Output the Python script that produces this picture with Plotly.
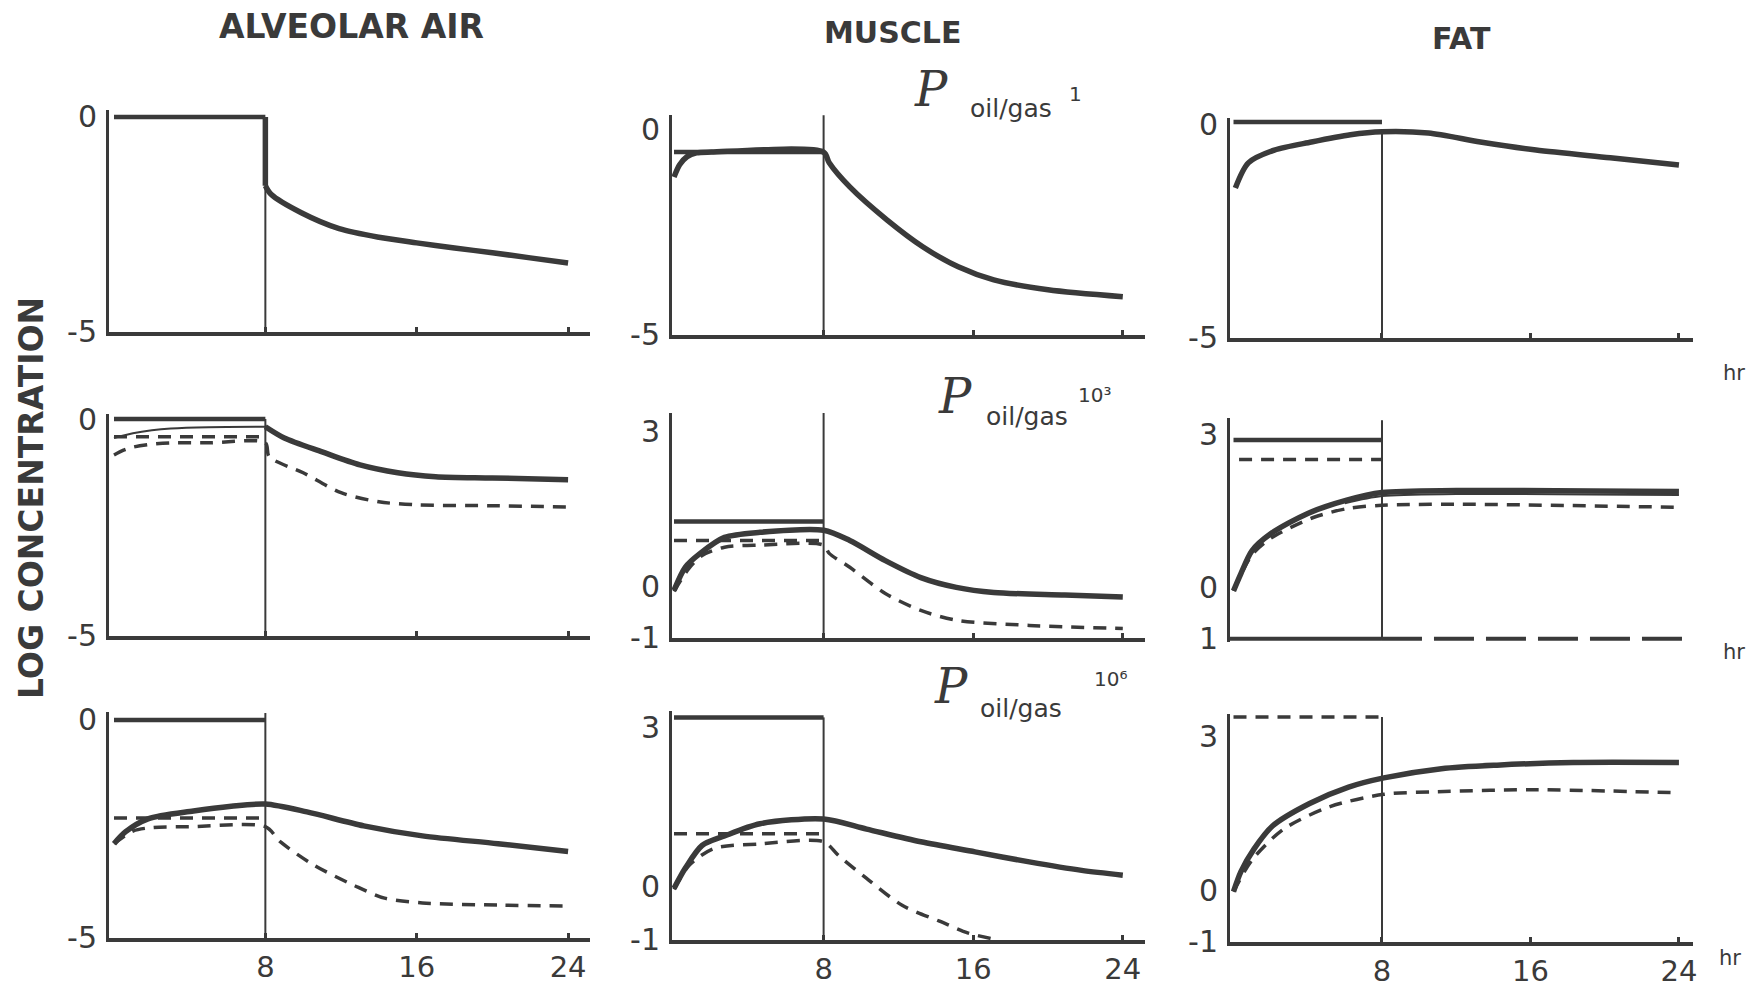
import plotly.graph_objects as go

W, H = 1747, 992
INK = "#3a3a3a"
FONT = "DejaVu Sans"

# ---------------- text ----------------
col_titles = ["ALVEOLAR AIR", "MUSCLE", "FAT"]
y_title = "LOG CONCENTRATION"
partition_symbol = "P"
partition_sub = "oil/gas"
partition_values = ["1", "10³", "10⁶"]
time_unit = "hr"
x_ticks = [8, 16, 24]
x_tick_labels = ["8", "16", "24"]
y_ticks_low = [0, -5]
y_tick_labels_low = ["0", "-5"]
y_ticks_high = [3, 0, -1]
y_tick_labels_high = ["3", "0", "-1"]
y_tick_labels_fat2 = ["3", "0", "1"]

exposure_t = [0, 8]
end_exposure_t = [8, 8]

# ---------------- row 1 : P oil/gas = 1 ----------------
air1_exposure = [0, 0]
air1_drop = [0, -1.6]
air1_t = [8, 8.3, 9.9, 11.9, 14, 16, 18, 20, 22, 24]
air1_v = [-1.6, -1.8, -2.23, -2.6, -2.8, -2.93, -3.05, -3.16, -3.28, -3.4]
air1_mark = [0, -5]

mus1_exposure = [-0.54, -0.54]
mus1_t = [0, 0.3, 0.7, 1.2, 2, 8, 8.3, 9.4, 11.4, 13.3, 15.2, 17.1, 20, 24]
mus1_v = [-1.15, -0.85, -0.65, -0.56, -0.54, -0.54, -0.8, -1.39, -2.2, -2.85, -3.34, -3.66, -3.9, -4.07]
mus1_mark = [0.36, -5]

fat1_exposure = [0.07, 0.07]
fat1_t = [0.1, 0.8, 2.2, 4.2, 6.3, 8, 10.5, 13.3, 16.3, 20.3, 24]
fat1_v = [-1.48, -0.89, -0.59, -0.4, -0.23, -0.16, -0.19, -0.4, -0.59, -0.77, -0.94]
fat1_mark = [-0.16, -5]

# ---------------- row 2 : P oil/gas = 10^3 ----------------
air2_exposure = [0, 0]
air2_dash_exposure = [-0.41, -0.41]
air2_thin_t = [0, 1, 2, 3, 5, 8]
air2_thin_v = [-0.44, -0.33, -0.26, -0.22, -0.19, -0.18]
air2_t = [8, 9, 11, 13, 15, 17, 20, 24]
air2_v = [-0.18, -0.44, -0.76, -1.06, -1.24, -1.33, -1.36, -1.4]
air2_dash_t = [0, 0.5, 1, 2, 3, 5, 8, 8.2, 10, 12, 14, 16, 20, 24]
air2_dash_v = [-0.83, -0.72, -0.65, -0.58, -0.55, -0.55, -0.55, -0.87, -1.24, -1.7, -1.91, -1.98, -2.0, -2.03]
air2_mark = [0, -5]

mus2_exposure = [1.26, 1.26]
mus2_dash_exposure = [0.89, 0.89]
mus2_t = [0, 0.6, 1.4, 2.7, 4.6, 8, 9.4, 11.3, 13.2, 15.1, 17.1, 20.9, 24]
mus2_v = [-0.08, 0.37, 0.64, 0.95, 1.05, 1.09, 0.89, 0.5, 0.17, -0.02, -0.12, -0.17, -0.21]
mus2_dash_t = [0, 0.8, 1.5, 2.7, 4.6, 8, 8.3, 9.4, 11.3, 13.2, 15.1, 19, 24]
mus2_dash_v = [-0.1, 0.35, 0.6, 0.76, 0.8, 0.8, 0.64, 0.37, -0.14, -0.47, -0.66, -0.76, -0.82]
mus2_mark = [3.37, -1]

fat2_exposure = [2.9, 2.9]
fat2_dash_exposure_t = [0.3, 8]
fat2_dash_exposure = [2.52, 2.52]
fat2_t = [0, 0.4, 1, 2, 4, 6.1, 8, 12, 24]
fat2_v = [-0.06, 0.28, 0.73, 1.06, 1.46, 1.72, 1.87, 1.91, 1.89]
fat2_thin_t = [6, 8, 12, 24]
fat2_thin_v = [1.66, 1.8, 1.84, 1.82]
fat2_dash_t = [0, 1, 2, 4.3, 6.2, 8, 12, 24]
fat2_dash_v = [-0.06, 0.65, 0.97, 1.38, 1.56, 1.62, 1.64, 1.58]
fat2_mark = [3.29, -1]

# ---------------- row 3 : P oil/gas = 10^6 ----------------
air3_exposure = [0, 0]
air3_dash_exposure = [-2.25, -2.25]
air3_t = [0, 0.6, 1.8, 4.2, 6.2, 8, 10.2, 13.2, 16.3, 20.3, 24]
air3_v = [-2.84, -2.57, -2.27, -2.09, -1.98, -1.93, -2.11, -2.43, -2.66, -2.84, -3.02]
air3_dash_t = [0, 1, 2, 4, 8, 8.8, 10.6, 12.7, 14.3, 16.3, 20.3, 24]
air3_dash_v = [-2.84, -2.55, -2.47, -2.45, -2.45, -2.8, -3.34, -3.8, -4.09, -4.2, -4.25, -4.27]
air3_mark = [0.16, -5]

mus3_exposure = [3.2, 3.2]
mus3_dash_exposure = [1.0, 1.0]
mus3_t = [0, 0.6, 1.5, 2.7, 4.6, 8, 10.3, 13.2, 16.1, 19, 21.8, 24]
mus3_v = [-0.03, 0.35, 0.78, 0.96, 1.19, 1.28, 1.09, 0.85, 0.66, 0.47, 0.31, 0.22]
mus3_dash_t = [0, 0.8, 2.1, 4.6, 8, 8.8, 10.3, 12.2, 14.2, 15.7, 17]
mus3_dash_v = [-0.05, 0.4, 0.72, 0.81, 0.85, 0.59, 0.16, -0.35, -0.65, -0.87, -0.98]
mus3_mark = [3.2, -1]

fat3_dash_exposure = [3.39, 3.39]
fat3_t = [0, 0.4, 1.1, 2.1, 4.1, 6.2, 8.1, 11.2, 14.2, 18.3, 24]
fat3_v = [-0.02, 0.37, 0.81, 1.26, 1.7, 2.02, 2.2, 2.38, 2.45, 2.5, 2.5]
fat3_dash_t = [0, 1, 2.7, 5.2, 8.1, 11, 16, 24]
fat3_dash_v = [-0.02, 0.6, 1.2, 1.64, 1.88, 1.93, 1.97, 1.91]
fat3_mark = [3.39, -1]

# ---------------- layout geometry (page pixels) ----------------
COLS = [(109, 590, 114, 18.92), (672, 1145, 674, 18.7), (1230, 1693, 1233.5, 18.56)]
PANEL_Y = {
    (0, 0): (110, 332, (0, 117), (-5, 332)),
    (0, 1): (115, 335, (0, 130), (-5, 335)),
    (0, 2): (118, 338, (0, 125), (-5, 338)),
    (1, 0): (414, 636, (0, 419), (-5, 636)),
    (1, 1): (413, 638, (3, 432), (-1, 638)),
    (1, 2): (418, 642, (3, 435), (-1, 639)),
    (2, 0): (712, 938, (0, 720), (-5, 938)),
    (2, 1): (711, 940, (3, 728), (-1, 940)),
    (2, 2): (714, 942, (3, 737), (-1, 942)),
}

STY = {
    "thick": dict(width=5.5, dash="solid"),
    "expo": dict(width=4.5, dash="solid"),
    "thin": dict(width=2, dash="solid"),
    "mark": dict(width=2, dash="solid"),
    "dash": dict(width=3.5, dash="13px,9px"),
}

panels = {
    (0, 0): [(exposure_t, air1_exposure, "expo", "linear"), (end_exposure_t, air1_mark, "mark", "linear"),
             (end_exposure_t, air1_drop, "thick", "linear"), (air1_t, air1_v, "thick", "spline")],
    (0, 1): [(exposure_t, mus1_exposure, "expo", "linear"), (end_exposure_t, mus1_mark, "mark", "linear"),
             (mus1_t, mus1_v, "thick", "spline")],
    (0, 2): [(exposure_t, fat1_exposure, "expo", "linear"), (end_exposure_t, fat1_mark, "mark", "linear"),
             (fat1_t, fat1_v, "thick", "spline")],
    (1, 0): [(exposure_t, air2_exposure, "expo", "linear"), (end_exposure_t, air2_mark, "mark", "linear"),
             (exposure_t, air2_dash_exposure, "dash", "linear"),
             (air2_thin_t, air2_thin_v, "thin", "spline"), (air2_t, air2_v, "thick", "spline"),
             (air2_dash_t, air2_dash_v, "dash", "spline")],
    (1, 1): [(exposure_t, mus2_exposure, "expo", "linear"), (end_exposure_t, mus2_mark, "mark", "linear"),
             (exposure_t, mus2_dash_exposure, "dash", "linear"),
             (mus2_t, mus2_v, "thick", "spline"), (mus2_dash_t, mus2_dash_v, "dash", "spline")],
    (1, 2): [(exposure_t, fat2_exposure, "expo", "linear"), (end_exposure_t, fat2_mark, "mark", "linear"),
             (fat2_dash_exposure_t, fat2_dash_exposure, "dash", "linear"),
             (fat2_t, fat2_v, "thick", "spline"), (fat2_thin_t, fat2_thin_v, "thin", "spline"),
             (fat2_dash_t, fat2_dash_v, "dash", "spline")],
    (2, 0): [(exposure_t, air3_exposure, "expo", "linear"), (end_exposure_t, air3_mark, "mark", "linear"),
             (exposure_t, air3_dash_exposure, "dash", "linear"),
             (air3_t, air3_v, "thick", "spline"), (air3_dash_t, air3_dash_v, "dash", "spline")],
    (2, 1): [(exposure_t, mus3_exposure, "expo", "linear"), (end_exposure_t, mus3_mark, "mark", "linear"),
             (exposure_t, mus3_dash_exposure, "dash", "linear"),
             (mus3_t, mus3_v, "thick", "spline"), (mus3_dash_t, mus3_dash_v, "dash", "spline")],
    (2, 2): [(exposure_t, fat3_dash_exposure, "dash", "linear"), (end_exposure_t, fat3_mark, "mark", "linear"),
             (fat3_t, fat3_v, "thick", "spline"), (fat3_dash_t, fat3_dash_v, "dash", "spline")],
}

fig = go.Figure()
layout = {}
for r in range(3):
    for c in range(3):
        idx = r * 3 + c + 1
        sx = "" if idx == 1 else str(idx)
        xl, xr, t0px, pph = COLS[c]
        ytop, ybot, (v1, p1), (v2, p2) = PANEL_Y[(r, c)]
        ppv = (p2 - p1) / (v1 - v2)
        x_range = [(xl - t0px) / pph, (xr - t0px) / pph]
        y_range = [v1 - (ybot - p1) / ppv - 0.005, v1 + (p1 - ytop) / ppv]
        custom_base = (r, c) == (1, 2)
        layout["xaxis" + sx] = dict(
            domain=[xl / W, xr / W], range=x_range, anchor="y" + sx, automargin=False,
            showline=not custom_base, linewidth=4, linecolor=INK,
            showgrid=False, zeroline=False, fixedrange=True,
            tickvals=x_ticks, ticktext=x_tick_labels, showticklabels=(r == 2),
            ticks="inside" if not custom_base else "", ticklen=5, tickwidth=3, tickcolor=INK,
            tickfont=dict(family=FONT, size=29, color=INK), ticklabelstandoff=0,
        )
        if c == 0 or r == 0:
            ytv, ytt = y_ticks_low, y_tick_labels_low
        elif (r, c) == (1, 2):
            ytv, ytt = y_ticks_high, y_tick_labels_fat2
        else:
            ytv, ytt = y_ticks_high, y_tick_labels_high
        layout["yaxis" + sx] = dict(
            domain=[1 - ybot / H, 1 - ytop / H], range=y_range, anchor="x" + sx, automargin=False,
            showline=True, linewidth=3, linecolor=INK,
            showgrid=False, zeroline=False, fixedrange=True,
            tickvals=ytv, ticktext=ytt, ticks="",
            tickfont=dict(family=FONT, size=30, color=INK), ticklabelstandoff=3,
        )
        for t, v, style, shape in panels[(r, c)]:
            fig.add_trace(go.Scatter(
                x=t, y=v, mode="lines", xaxis="x" + sx, yaxis="y" + sx,
                line=dict(color=INK, shape=shape, smoothing=0.8 if shape == "spline" else None, **STY[style]),
                showlegend=False, hoverinfo="skip",
            ))
        if custom_base:
            base = y_ticks_high[-1]
            fig.add_trace(go.Scatter(x=[x_range[0], end_exposure_t[0]], y=[base, base], mode="lines",
                                     xaxis="x" + sx, yaxis="y" + sx, showlegend=False, hoverinfo="skip",
                                     line=dict(color=INK, width=4)))
            fig.add_trace(go.Scatter(x=[end_exposure_t[0], x_range[1]], y=[base, base], mode="lines",
                                     xaxis="x" + sx, yaxis="y" + sx, showlegend=False, hoverinfo="skip",
                                     line=dict(color=INK, width=4, dash="40px,12px")))


def note(text, px, py, size, family=FONT, weight="normal", style="normal", angle=0):
    return dict(text=text, x=px / W, y=1 - py / H, xref="paper", yref="paper",
                xanchor="center", yanchor="middle", textangle=angle, showarrow=False,
                font=dict(family=family, size=size, color=INK, weight=weight, style=style))


annotations = []
for text, cx, cy, fs in zip(col_titles, [351, 892, 1461], [26, 33, 39], [33, 30, 30]):
    annotations.append(note(text, cx, cy, fs, weight="bold"))
annotations.append(note(y_title, 31, 498, 33, weight="bold", angle=-90))
P_POS = [((931, 89), (1011, 108), (1075, 94)),
         ((955, 396), (1027, 416), (1094, 395)),
         ((951, 686), (1021, 708), (1110, 679))]
for (pp, sp, vp), val in zip(P_POS, partition_values):
    annotations.append(note(partition_symbol, pp[0], pp[1], 48, family="DejaVu Serif", style="italic"))
    annotations.append(note(partition_sub, sp[0], sp[1], 25))
    annotations.append(note(val, vp[0], vp[1], 20))
for hx, hy in [(1734, 373), (1734, 652), (1730, 958)]:
    annotations.append(note(time_unit, hx, hy, 21))

fig.update_layout(
    template="none",
    width=W, height=H, margin=dict(l=0, r=0, t=0, b=0, pad=0),
    paper_bgcolor="white", plot_bgcolor="rgba(0,0,0,0)",
    showlegend=False, annotations=annotations, **layout,
)
fig.write_html("out.html", config={"displayModeBar": False, "responsive": False},
               post_script="document.body.style.margin='0';document.body.style.overflow='hidden';")
